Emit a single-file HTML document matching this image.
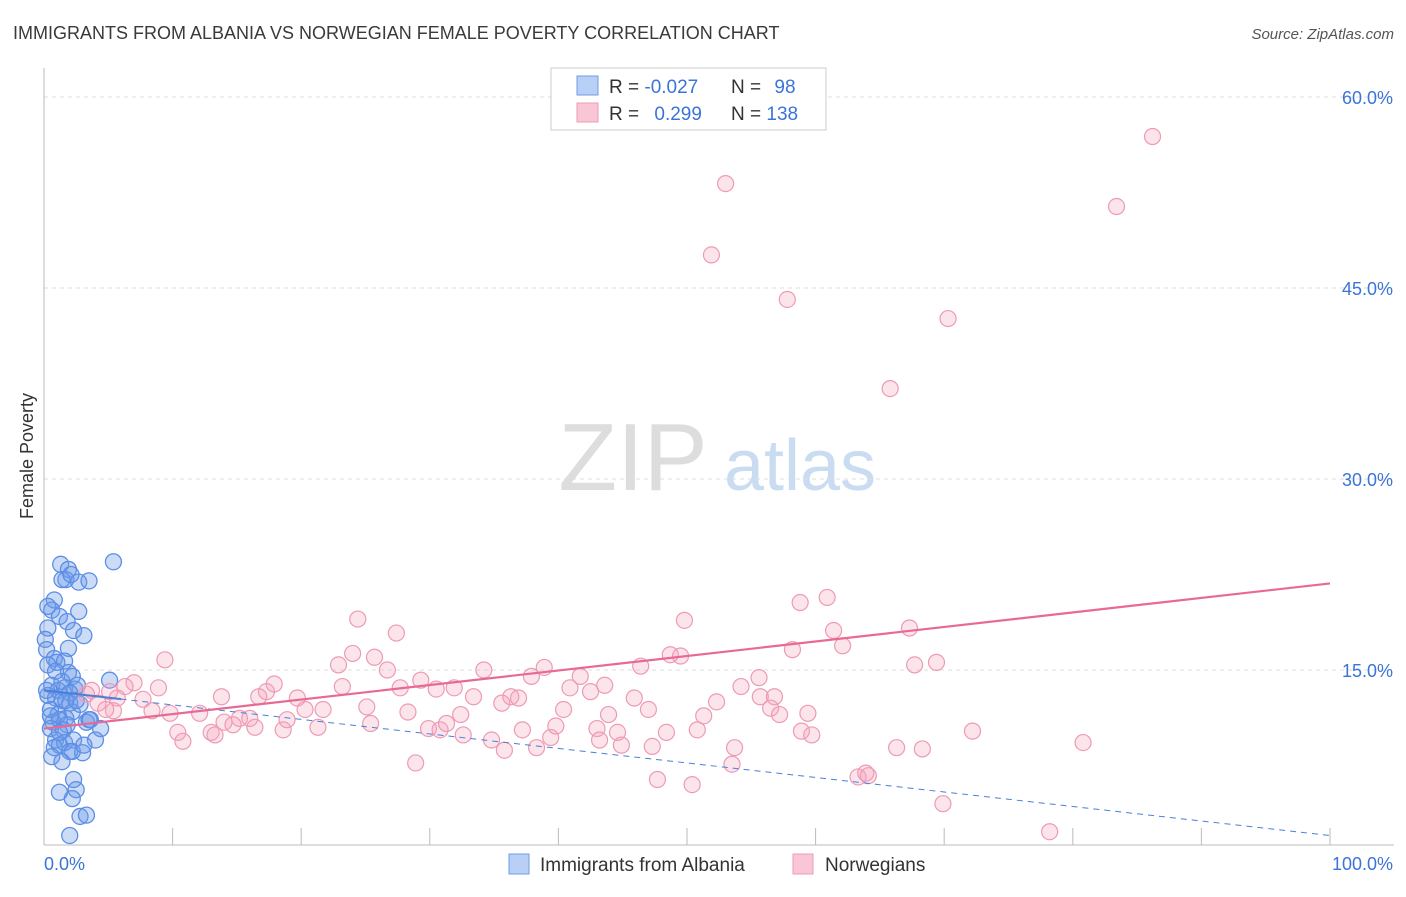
<!DOCTYPE html>
<html><head><meta charset="utf-8"><style>
body{margin:0;background:#fff;font-family:"Liberation Sans",sans-serif;}
svg text{font-family:"Liberation Sans",sans-serif;}
</style></head><body>
<svg id="chart" width="1406" height="892" xmlns="http://www.w3.org/2000/svg">
<text x="13" y="39" font-size="18" fill="#3a3a3a">IMMIGRANTS FROM ALBANIA VS NORWEGIAN FEMALE POVERTY CORRELATION CHART</text>
<text x="1394" y="39" font-size="15" fill="#555" text-anchor="end" font-style="italic">Source: ZipAtlas.com</text>
<text transform="translate(33,456) rotate(-90)" font-size="18" fill="#333" text-anchor="middle">Female Poverty</text>
<g>
<text x="633" y="490" font-size="96" fill="#ddd" text-anchor="middle" font-family="Liberation Serif,serif">ZIP</text>
<text x="800" y="490" font-size="72" fill="#c9dcf2" text-anchor="middle">atlas</text>
</g>
<g id="grid"></g><g id="axes"></g><g id="marks"></g>
<g>
<rect x="551" y="68" width="275" height="62" fill="#fff" stroke="#ccc"/>
<rect x="577" y="76" width="21" height="19" fill="#b8d0f5" stroke="#6f9de6"/>
<rect x="577" y="103" width="21" height="19" fill="#f9c6d5" stroke="#ef9bb7"/>
<text x="609" y="93" font-size="19" fill="#333">R = <tspan fill="#3a74d8">-0.027</tspan></text>
<text x="731" y="93" font-size="19" fill="#333">N = <tspan fill="#3a74d8" dx="8">98</tspan></text>
<text x="609" y="120" font-size="19" fill="#333">R = <tspan fill="#3a74d8" dx="10">0.299</tspan></text>
<text x="731" y="120" font-size="19" fill="#333">N = <tspan fill="#3a74d8">138</tspan></text>
</g>
<g>
<rect x="509" y="854" width="20" height="20" fill="#b8d0f5" stroke="#6f9de6"/>
<text x="540" y="871" font-size="19" fill="#333">Immigrants from Albania</text>
<rect x="793" y="854" width="20" height="20" fill="#f9c6d5" stroke="#ef9bb7"/>
<text x="825" y="871" font-size="19" fill="#333">Norwegians</text>
</g>
</svg>
<script>
const yTicks=[15,30,45,60];
const yTickLabels=["15.0%","30.0%","45.0%","60.0%"];
const xLabels=["0.0%","100.0%"];
const pinkX=[53.0,86.2,83.4,51.9,57.8,70.3,65.8,24.4,27.4,49.8,58.8,60.9,67.3,61.4,62.1,9.4,24.0,25.7,48.7,49.5,58.2,67.7,69.4,22.9,26.7,34.2,38.9,46.4,41.7,55.6,17.9,23.2,27.7,29.3,30.5,31.9,33.4,35.6,36.3,36.9,37.9,40.9,42.5,43.6,45.9,54.2,55.7,56.8,52.3,56.5,57.2,47.0,43.9,40.4,28.3,25.1,21.7,19.7,20.3,17.3,16.7,13.8,8.9,7.0,6.3,5.1,3.7,3.3,4.2,5.7,7.7,5.4,8.4,4.8,9.8,12.1,14.0,15.2,16.0,16.4,14.7,13.0,10.4,10.8,13.3,18.6,18.9,21.3,25.4,29.9,30.8,31.3,32.4,32.6,34.8,35.8,37.2,38.3,39.4,39.8,43.0,43.2,44.6,44.9,47.3,48.4,50.8,51.3,53.7,53.5,28.9,47.7,50.4,63.3,63.9,64.1,66.3,68.3,72.2,80.8,69.9,78.2,58.9,59.7,59.4];
const pinkY=[53.2,56.9,51.4,47.6,44.1,42.6,37.1,19.0,17.9,18.9,20.3,20.7,18.3,18.1,16.9,15.8,16.3,16.0,16.2,16.1,16.6,15.4,15.6,15.4,15.0,15.0,15.2,15.3,14.5,14.4,13.9,13.7,13.6,14.2,13.5,13.6,12.9,12.4,12.9,12.8,14.5,13.6,13.3,13.8,12.8,13.7,12.9,12.9,12.5,12.0,11.5,11.9,11.5,11.9,11.7,12.1,11.9,12.8,11.9,13.3,12.9,12.9,13.6,14.0,13.7,13.3,13.4,13.1,12.4,12.8,12.7,11.8,11.8,11.9,11.6,11.6,10.9,11.2,11.2,10.5,10.7,10.1,10.1,9.4,9.9,10.3,11.1,10.5,10.8,10.4,10.3,10.8,11.5,9.9,9.5,8.7,10.3,8.9,9.7,10.6,10.4,9.5,10.1,9.1,9.0,10.1,10.3,11.4,8.9,7.6,7.7,6.4,6.0,6.6,6.9,6.7,8.9,8.8,10.2,9.3,4.5,2.3,10.2,9.9,11.6];
const blueX=[5.4,1.3,1.9,1.7,1.4,2.7,3.5,2.1,0.8,0.6,2.7,1.2,1.8,2.3,0.3,3.1,0.1,0.2,1.9,0.8,1.0,1.6,0.3,1.9,2.2,5.1,0.6,1.1,1.6,2.4,2.6,0.3,0.9,1.4,2.0,0.5,1.1,1.7,2.2,2.8,0.7,1.2,1.8,0.5,1.5,3.3,3.5,4.4,0.9,1.6,2.3,4.0,0.8,1.2,2.0,3.0,0.6,1.4,2.2,1.2,2.5,2.3,2.2,2.8,3.3,2.0,0.3,3.6,1.4,0.9,2.0,3.1,0.2,1.2,0.5,1.7,2.5];
const blueY=[23.5,23.3,22.9,22.1,22.1,21.9,22.0,22.5,20.5,19.7,19.6,19.2,18.8,18.1,18.3,17.7,17.4,16.6,16.7,15.9,15.6,15.7,15.4,14.8,14.5,14.2,13.8,13.4,13.6,13.5,13.8,13.0,12.8,12.6,12.4,11.9,11.5,11.2,11.7,12.3,10.9,11.1,10.7,10.4,10.3,10.9,11.1,10.4,9.5,9.3,9.5,9.5,8.9,9.1,8.6,8.5,8.2,7.8,8.6,5.4,5.6,6.4,4.9,3.5,3.6,2.0,20.0,11.1,14.1,14.9,13.2,9.1,13.4,10.1,11.4,12.6,12.6];
const pinkTrend=[10.4,21.8];
const blueTrend=[13.4,2.0];
const NS="http://www.w3.org/2000/svg";
const xs=v=>44+v*12.86, ys=v=>861-v*12.733;
function mk(t,a,p){const e=document.createElementNS(NS,t);for(const k in a)e.setAttribute(k,a[k]);p.appendChild(e);return e;}
const grid=document.getElementById('grid'),axes=document.getElementById('axes'),marks=document.getElementById('marks');
yTicks.forEach((v,i)=>{
 const l=mk('line',{x1:44,x2:1394,y1:ys(v),y2:ys(v),stroke:'#ddd','stroke-dasharray':'4,4'},grid);
 
 
 const t=mk('text',{x:1393,y:ys(v)+7,'font-size':18,fill:'#3a74d8','text-anchor':'end'},axes);
 t.textContent=yTickLabels[i];
 
 
});
mk('line',{x1:44,x2:44,y1:68,y2:845,stroke:'#bbb'},axes);
mk('line',{x1:44,x2:1394,y1:845,y2:845,stroke:'#bbb'},axes);
for(let i=0;i<=10;i++){const tk=mk('line',{x1:xs(i*10),x2:xs(i*10),y1:828,y2:845,stroke:'#bbb'},axes);
 
 }
const xl0=mk('text',{x:44,y:870,'font-size':18,fill:'#3a74d8'},axes);xl0.textContent=xLabels[0];


const xl1=mk('text',{x:1393,y:870,'font-size':18,fill:'#3a74d8','text-anchor':'end'},axes);xl1.textContent=xLabels[1];


blueX.forEach((x,i)=>{const c=mk('circle',{cx:xs(x),cy:ys(blueY[i]),r:8,fill:'rgba(110,155,232,0.35)',stroke:'#5b8ee6','stroke-width':1.3},marks);
 
 });
pinkX.forEach((x,i)=>{const c=mk('circle',{cx:xs(x),cy:ys(pinkY[i]),r:8,fill:'rgba(245,165,190,0.3)',stroke:'#ee9ab5','stroke-width':1.2},marks);
 
 });
const bt=v=>blueTrend[0]+(blueTrend[1]-blueTrend[0])*v/100;
const bl=mk('line',{x1:xs(0),y1:ys(bt(0)),x2:xs(100),y2:ys(bt(100)),stroke:'#4a7fd8','stroke-width':1,'stroke-dasharray':'6,5'},marks);


const bs=mk('line',{x1:xs(0),y1:ys(bt(0)),x2:xs(6),y2:ys(bt(6)),stroke:'#4a7fd8','stroke-width':2},marks);


const pl=mk('line',{x1:xs(0),y1:ys(pinkTrend[0]),x2:xs(100),y2:ys(pinkTrend[1]),stroke:'#e86a94','stroke-width':2.2},marks);


</script>
</body></html>
